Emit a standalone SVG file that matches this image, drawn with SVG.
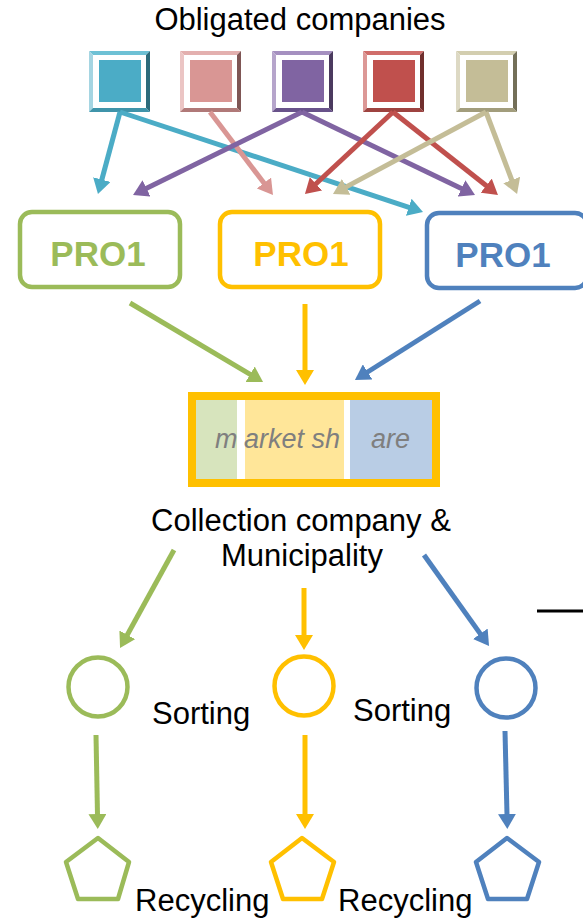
<svg xmlns="http://www.w3.org/2000/svg" width="583" height="918" viewBox="0 0 583 918">
<style>
text{font-family:"Liberation Sans",Arial,sans-serif;}
.lbl{font-size:31px;fill:#000;}
.pro{font-size:35px;font-weight:bold;text-anchor:middle;}
.ms{font-size:27px;font-style:italic;fill:#7F7F7F;}
.ln{fill:none;stroke-width:5;}
.box{fill:#fff;stroke-width:4.5;}
.shape{fill:none;stroke-width:4.5;stroke-linejoin:round;}
</style>
<defs>
<marker id="mTeal" markerUnits="userSpaceOnUse" markerWidth="16" markerHeight="18" refX="1" refY="9" orient="auto"><path d="M0,0 L15,9 L0,18 z" fill="#4BACC6"/></marker>
<marker id="mPink" markerUnits="userSpaceOnUse" markerWidth="16" markerHeight="18" refX="1" refY="9" orient="auto"><path d="M0,0 L15,9 L0,18 z" fill="#D99694"/></marker>
<marker id="mPurple" markerUnits="userSpaceOnUse" markerWidth="16" markerHeight="18" refX="1" refY="9" orient="auto"><path d="M0,0 L15,9 L0,18 z" fill="#8064A2"/></marker>
<marker id="mRed" markerUnits="userSpaceOnUse" markerWidth="16" markerHeight="18" refX="1" refY="9" orient="auto"><path d="M0,0 L15,9 L0,18 z" fill="#C0504D"/></marker>
<marker id="mTan" markerUnits="userSpaceOnUse" markerWidth="16" markerHeight="18" refX="1" refY="9" orient="auto"><path d="M0,0 L15,9 L0,18 z" fill="#C4BD97"/></marker>
<marker id="mGreen" markerUnits="userSpaceOnUse" markerWidth="16" markerHeight="18" refX="1" refY="9" orient="auto"><path d="M0,0 L15,9 L0,18 z" fill="#9BBB59"/></marker>
<marker id="mYellow" markerUnits="userSpaceOnUse" markerWidth="16" markerHeight="18" refX="1" refY="9" orient="auto"><path d="M0,0 L15,9 L0,18 z" fill="#FFC000"/></marker>
<marker id="mBlue" markerUnits="userSpaceOnUse" markerWidth="16" markerHeight="18" refX="1" refY="9" orient="auto"><path d="M0,0 L15,9 L0,18 z" fill="#4F81BD"/></marker>
</defs>
<rect width="583" height="918" fill="#fff"/>

<g id="title"><text class="lbl" x="300" y="30" text-anchor="middle">Obligated companies</text></g>

<!-- companies -->
<g id="company1" transform="translate(89,51)">
<polygon points="0,0 61,0 57,4 4,4" fill="#6EC1D5"/>
<polygon points="0,0 4,4 4,57 0,61" fill="#A5D5E2"/>
<polygon points="61,0 61,61 57,57 57,4" fill="#2D6B7B"/>
<polygon points="0,61 61,61 57,57 4,57" fill="#3F94AA"/>
<rect x="10" y="9" width="42" height="42" fill="#4BACC6"/>
</g>
<g id="company2" transform="translate(180,51)">
<polygon points="0,0 61,0 57,4 4,4" fill="#E3B0AF"/>
<polygon points="0,0 4,4 4,57 0,61" fill="#EBC5C4"/>
<polygon points="61,0 61,61 57,57 57,4" fill="#7F5655"/>
<polygon points="0,61 61,61 57,57 4,57" fill="#B07978"/>
<rect x="10" y="9" width="42" height="42" fill="#D99694"/>
</g>
<g id="company3" transform="translate(272,51)">
<polygon points="0,0 61,0 57,4 4,4" fill="#A590C0"/>
<polygon points="0,0 4,4 4,57 0,61" fill="#B6A5CB"/>
<polygon points="61,0 61,61 57,57 57,4" fill="#4B3A5F"/>
<polygon points="0,61 61,61 57,57 4,57" fill="#68528A"/>
<rect x="10" y="9" width="42" height="42" fill="#8064A2"/>
</g>
<g id="company4" transform="translate(363,51)">
<polygon points="0,0 61,0 57,4 4,4" fill="#D06E6B"/>
<polygon points="0,0 4,4 4,57 0,61" fill="#DC9896"/>
<polygon points="61,0 61,61 57,57 57,4" fill="#702F2D"/>
<polygon points="0,61 61,61 57,57 4,57" fill="#9E4340"/>
<rect x="10" y="9" width="42" height="42" fill="#C0504D"/>
</g>
<g id="company5" transform="translate(456,51)">
<polygon points="0,0 61,0 57,4 4,4" fill="#D3CEB0"/>
<polygon points="0,0 4,4 4,57 0,61" fill="#DDD9C4"/>
<polygon points="61,0 61,61 57,57 57,4" fill="#736F58"/>
<polygon points="0,61 61,61 57,57 4,57" fill="#A29D7C"/>
<rect x="10" y="9" width="42" height="42" fill="#C4BD97"/>
</g>

<!-- PRO nodes -->
<g id="pro-green">
<rect class="box" x="20" y="212" width="160" height="75" rx="12" stroke="#9BBB59"/>
<text class="pro" x="98" y="266" fill="#9BBB59">PRO1</text>
</g>
<g id="pro-yellow">
<rect class="box" x="220" y="212" width="160" height="75" rx="12" stroke="#FFC000"/>
<text class="pro" x="301" y="266" fill="#FFC000">PRO1</text>
</g>
<g id="pro-blue">
<rect class="box" x="427" y="213" width="160" height="75" rx="12" stroke="#4F81BD"/>
<text class="pro" x="503" y="267" fill="#4F81BD">PRO1</text>
</g>

<!-- market share -->
<g id="market">
<rect x="192" y="396" width="244" height="87" fill="#fff" stroke="#FFC000" stroke-width="8"/>
<rect x="196" y="400" width="41" height="79" fill="#D7E4BD"/>
<rect x="245" y="400" width="99" height="79" fill="#FFE699"/>
<rect x="350" y="400" width="82" height="79" fill="#B9CDE5"/>
<text class="ms" x="215" y="448">m</text>
<text class="ms" x="244" y="448">arket sh</text>
<text class="ms" x="371" y="448">are</text>
</g>

<g id="collection">
<text class="lbl" x="301" y="531" text-anchor="middle">Collection company &amp;</text>
<text class="lbl" x="302" y="566" text-anchor="middle">Municipality</text>
</g>

<!-- sorting -->
<g id="sort-green"><circle class="shape" cx="98" cy="687" r="29.5" stroke="#9BBB59"/></g>
<g id="sort-yellow"><circle class="shape" cx="304" cy="686" r="29.5" stroke="#FFC000"/></g>
<g id="sort-blue"><circle class="shape" cx="506" cy="688" r="29.5" stroke="#4F81BD"/></g>
<g id="sort-labels">
<text class="lbl" x="152" y="724">Sorting</text>
<text class="lbl" x="353" y="721">Sorting</text>
</g>

<!-- recycling -->
<g id="rec-green"><polygon class="shape" points="98,838 129,862 118,899 78,899 66,862" stroke="#9BBB59"/></g>
<g id="rec-yellow"><polygon class="shape" points="302,838 334,862 322,899 283,899 271,862" stroke="#FFC000"/></g>
<g id="rec-blue"><polygon class="shape" points="507,838 539,862 527,899 488,899 476,862" stroke="#4F81BD"/></g>
<g id="rec-labels">
<text class="lbl" x="135" y="911">Recycling</text>
<text class="lbl" x="338" y="911">Recycling</text>
</g>

<!-- connectors -->
<g id="connectors">
<line class="ln" x1="120" y1="112" x2="101.6" y2="180.5" stroke="#4BACC6" marker-end="url(#mTeal)"/>
<line class="ln" x1="120" y1="112" x2="409.7" y2="207.6" stroke="#4BACC6" marker-end="url(#mTeal)"/>
<line class="ln" x1="210" y1="112" x2="264.5" y2="183.8" stroke="#D99694" marker-end="url(#mPink)"/>
<line class="ln" x1="302" y1="112" x2="145.6" y2="188.8" stroke="#8064A2" marker-end="url(#mPurple)"/>
<line class="ln" x1="302" y1="112" x2="462.4" y2="188.9" stroke="#8064A2" marker-end="url(#mPurple)"/>
<line class="ln" x1="393" y1="112" x2="315.2" y2="184.5" stroke="#C0504D" marker-end="url(#mRed)"/>
<line class="ln" x1="393" y1="112" x2="487" y2="186.3" stroke="#C0504D" marker-end="url(#mRed)"/>
<line class="ln" x1="486" y1="112" x2="345.3" y2="187.4" stroke="#C4BD97" marker-end="url(#mTan)"/>
<line class="ln" x1="486" y1="112" x2="512.1" y2="180.9" stroke="#C4BD97" marker-end="url(#mTan)"/>

<line class="ln" x1="130" y1="303" x2="251" y2="374.8" stroke="#9BBB59" marker-end="url(#mGreen)"/>
<line class="ln" x1="305" y1="304" x2="305" y2="371" stroke="#FFC000" marker-end="url(#mYellow)"/>
<line class="ln" x1="480" y1="301" x2="366.8" y2="372.5" stroke="#4F81BD" marker-end="url(#mBlue)"/>

<line class="ln" x1="174" y1="550" x2="126.8" y2="635.7" stroke="#9BBB59" marker-end="url(#mGreen)"/>
<line class="ln" x1="304" y1="588" x2="304" y2="636" stroke="#FFC000" marker-end="url(#mYellow)"/>
<line class="ln" x1="424" y1="555" x2="480.9" y2="634.6" stroke="#4F81BD" marker-end="url(#mBlue)"/>

<line class="ln" x1="96" y1="735" x2="97.5" y2="815" stroke="#9BBB59" marker-end="url(#mGreen)"/>
<line class="ln" x1="305" y1="735" x2="305" y2="815" stroke="#FFC000" marker-end="url(#mYellow)"/>
<line class="ln" x1="505" y1="731" x2="507" y2="815" stroke="#4F81BD" marker-end="url(#mBlue)"/>

<line x1="537" y1="611" x2="583" y2="611" stroke="#000" stroke-width="3"/>
</g>
</svg>
